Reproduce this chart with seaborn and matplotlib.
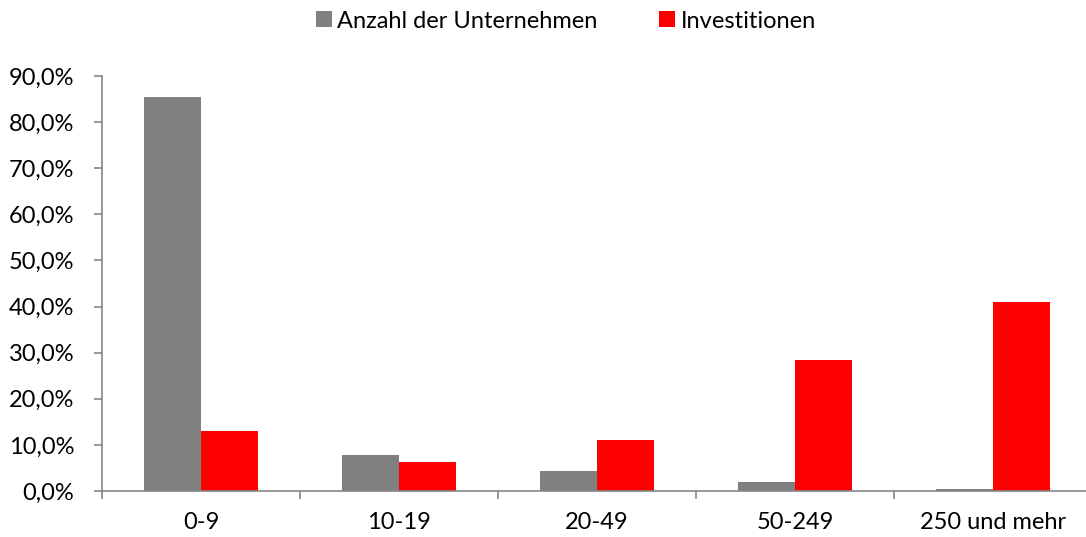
import numpy as np
import pandas as pd
import seaborn as sns
import matplotlib.pyplot as plt
from matplotlib.ticker import FuncFormatter, FixedLocator

categories = ['0-9', '10-19', '20-49', '50-249', '250 und mehr']
anzahl = [85.4, 7.8, 4.3, 2.0, 0.4]
investitionen = [13.0, 6.3, 11.1, 28.4, 41.0]
series = ['Anzahl der Unternehmen', 'Investitionen']
colors = ['#808080', '#ff0000']

df = pd.DataFrame({
    'Kategorie': categories * 2,
    'Wert': anzahl + investitionen,
    'Serie': [series[0]] * len(categories) + [series[1]] * len(categories),
})

sns.set_style('white')
plt.rcParams['font.family'] = ['Lato', 'DejaVu Sans']
plt.rcParams['text.color'] = 'black'
plt.rcParams['xtick.labelcolor'] = 'black'
plt.rcParams['ytick.labelcolor'] = 'black'
axis_col = '#868686'
fs = 17

fig = plt.figure(figsize=(10.86, 5.37), dpi=100)
ax = fig.add_axes([102 / 1086, 1 - 491 / 537, 990 / 1086, 415 / 537])

sns.barplot(data=df, x='Kategorie', y='Wert', hue='Serie', order=categories,
            hue_order=series, palette=colors, width=0.58, saturation=1,
            linewidth=0, ax=ax)

ax.set_ylim(0, 90)
ax.set_xlim(-0.5, 4.5)
ax.set_yticks(np.arange(0, 91, 10))
ax.yaxis.set_major_formatter(FuncFormatter(lambda v, p: f'{v:.1f}%'.replace('.', ',')))
ax.set_xlabel('')
ax.set_ylabel('')

for s in ['top', 'right']:
    ax.spines[s].set_visible(False)
for s in ['left', 'bottom']:
    ax.spines[s].set_color(axis_col)
    ax.spines[s].set_linewidth(1.2)

ax.tick_params(axis='y', which='major', direction='out', length=6, width=1.2,
               color=axis_col, labelsize=fs, pad=14, left=True, labelcolor='black')
ax.tick_params(axis='x', which='major', length=0, labelsize=fs, pad=15, labelcolor='black')
ax.xaxis.set_minor_locator(FixedLocator(np.arange(-0.5, 5, 1)))
ax.tick_params(axis='x', which='minor', direction='out', length=6, width=1.2,
               color=axis_col, bottom=True)

handles, labels = ax.get_legend_handles_labels()
ax.get_legend().remove()
fig.legend(handles, labels, loc='center', bbox_to_anchor=(566 / 1086, 1 - 21 / 537),
           ncol=2, frameon=False, fontsize=fs, handlelength=0.65, handleheight=0.65,
           handletextpad=0.25, columnspacing=2.6, labelcolor='black')

fig.savefig('out.png', dpi=100)
